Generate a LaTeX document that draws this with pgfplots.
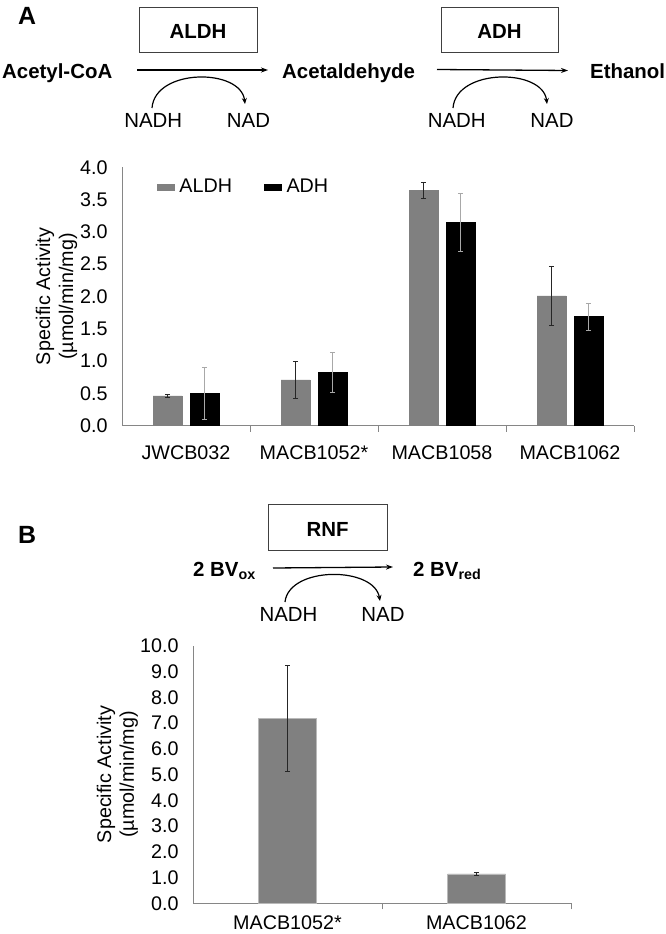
\documentclass[border=0pt]{standalone}
\usepackage{fontspec}
\setmainfont{Liberation Sans}
\usepackage{pgfplots}
\pgfplotsset{compat=1.18}
\usetikzlibrary{arrows.meta}
\definecolor{barg}{HTML}{808080}
\definecolor{axg}{HTML}{868686}
\definecolor{errl}{HTML}{A8A8A8}
\newcommand{\hdr}{\fontsize{20.5}{24}\selectfont\bfseries}
\newcommand{\nrm}{\fontsize{20.5}{24}\selectfont}
\newcommand{\tck}{\fontsize{19.8}{23}\selectfont}

\pgfplotsset{
  myaxis/.style={
    scale only axis,
    axis x line*=bottom, axis y line*=left,
    axis line style={axg, line width=1bp},
    ymin=0,
    major tick length=6bp,
    tick align=inside,
    xtick style={draw=axg, line width=1bp},
    ytick style={draw=none},
    /pgf/number format/assume math mode=true,
    yticklabel style={font=\tck, xshift=-11bp,
      /pgf/number format/fixed, /pgf/number format/fixed zerofill,
      /pgf/number format/precision=1},
    every axis y label/.style={rotate=90, anchor=center, align=center, font=\tck},
    ybar,
  },
  errdark/.style={error bars/.cd, y dir=both, y explicit,
    error bar style={color=black!85, line width=0.8bp},
    error mark options={rotate=90, mark size=2.6bp, color=black!85, line width=0.8bp}},
  errlight/.style={error bars/.cd, y dir=both, y explicit,
    error bar style={color=errl, line width=0.8bp},
    error mark options={rotate=90, mark size=2.6bp, color=errl, line width=0.8bp}},
}

\begin{document}
\begin{tikzpicture}
\path[use as bounding box] (0,0) rectangle (666bp,-934bp);

% ---------- Header A ----------
\begin{scope}[x=1bp,y=-1bp]
\node[font=\fontsize{25}{30}\selectfont\bfseries, anchor=base] at (27,24) {A};
\draw[line width=0.8bp, draw=black!75] (139,7) rectangle (257,52);
\node[font=\hdr, anchor=base] at (198,38) {ALDH};
\draw[line width=0.8bp, draw=black!75] (441,7) rectangle (558,52);
\node[font=\hdr, anchor=base] at (499.5,38) {ADH};
\node[font=\hdr, anchor=base west, inner sep=0] at (2,78) {Acetyl-CoA};
\node[font=\hdr, anchor=base west, inner sep=0] at (282,78) {Acetaldehyde};
\node[font=\hdr, anchor=base west, inner sep=0] at (590,78) {Ethanol};
\draw[line width=1.3bp, -{Stealth[length=7bp,width=5bp]}] (137,70) -- (268,70);
\draw[line width=1.3bp, -{Stealth[length=7bp,width=5bp]}] (437,69.5) -- (568,70.5);
\draw[line width=1.2bp, -{Stealth[length=6bp,width=5bp]}] (152,108) .. controls (155,68) and (241,68) .. (245,104);
\draw[line width=1.2bp, -{Stealth[length=6bp,width=5bp]}] (453,108) .. controls (456,68) and (543,68) .. (547,104);
\node[font=\nrm, anchor=base] at (153.3,127.3) {NADH};
\node[font=\nrm, anchor=base] at (248.5,127.3) {NAD};
\node[font=\nrm, anchor=base] at (456.7,127.3) {NADH};
\node[font=\nrm, anchor=base] at (552,127.3) {NAD};

% ---------- Header B ----------
\node[font=\fontsize{25}{30}\selectfont\bfseries, anchor=base] at (27,543) {B};
\draw[line width=0.8bp, draw=black!75] (268,504) rectangle (387,550);
\node[font=\hdr, anchor=base] at (327.5,536) {RNF};
\node[font=\hdr, anchor=base west, inner sep=0] at (193,576) {2 BV\textsubscript{ox}};
\node[font=\hdr, anchor=base west, inner sep=0] at (413,576) {2 BV\textsubscript{red}};
\draw[line width=1.3bp, -{Stealth[length=7bp,width=5bp]}] (273,568) -- (393,567);
\draw[line width=1.2bp, -{Stealth[length=6bp,width=5bp]}] (285,602) .. controls (289,566) and (374,566) .. (380,601);
\node[font=\nrm, anchor=base] at (288.5,621.7) {NADH};
\node[font=\nrm, anchor=base] at (383,621.7) {NAD};
\end{scope}

% ---------- Panel A chart ----------
\begin{axis}[myaxis,
  at={(122bp,-425.7bp)}, anchor=south west,
  width=512bp, height=258.4bp,
  xmin=-0.5, xmax=3.5, ymax=4,
  ytick={0,0.5,1,1.5,2,2.5,3,3.5,4},
  xtick={0.5,1.5,2.5,3.5},
  xticklabels={JWCB032,MACB1052*,MACB1058,MACB1062},
  xticklabel style={font=\tck, xshift=-64bp, yshift=-11bp},
  bar width=29bp, ybar=8bp,
  ylabel={Specific Activity\\(µmol/min/mg)},
  every axis y label/.append style={at={(axis description cs:-0.128,0.5)}},
  legend columns=2,
  legend style={at={(rel axis cs:0.062,0.924)}, anchor=west, draw=none, fill=none,
    font=\tck,
    /tikz/every odd column/.append style={column sep=3bp},
    /tikz/every even column/.append style={column sep=30bp}},
]
\addplot[fill=barg, draw=barg, line width=0.5bp, area legend, errdark]
  table[x=x, y=y, y error=e] {
x y e
0 0.46 0.02
1 0.71 0.29
2 3.64 0.12
3 2.01 0.46
};
\addplot[fill=black, draw=black, line width=0.5bp, area legend, errlight]
  table[x=x, y=y, y error=e] {
x y e
0 0.50 0.40
1 0.83 0.31
2 3.15 0.45
3 1.69 0.21
};
\legend{ALDH, ADH}
\end{axis}

% ---------- Panel B chart ----------
\begin{axis}[myaxis,
  at={(193bp,-903.3bp)}, anchor=south west,
  width=378bp, height=257.6bp,
  xmin=-0.5, xmax=1.5, ymax=10,
  ytick={0,1,2,3,4,5,6,7,8,9,10},
  xtick={0.5,1.5},
  xticklabels={MACB1052*,MACB1062},
  xticklabel style={font=\tck, xshift=-94.5bp, yshift=-3bp},
  bar width=58bp,
  ylabel={Specific Activity\\(µmol/min/mg)},
  every axis y label/.append style={at={(axis description cs:-0.2,0.5)}},
]
\addplot[fill=barg, draw=gray!55, line width=0.5bp, errdark] table[x=x, y=y, y error=e] {
x y e
0 7.18 2.05
1 1.14 0.05
};
\end{axis}
\end{tikzpicture}
\end{document}
